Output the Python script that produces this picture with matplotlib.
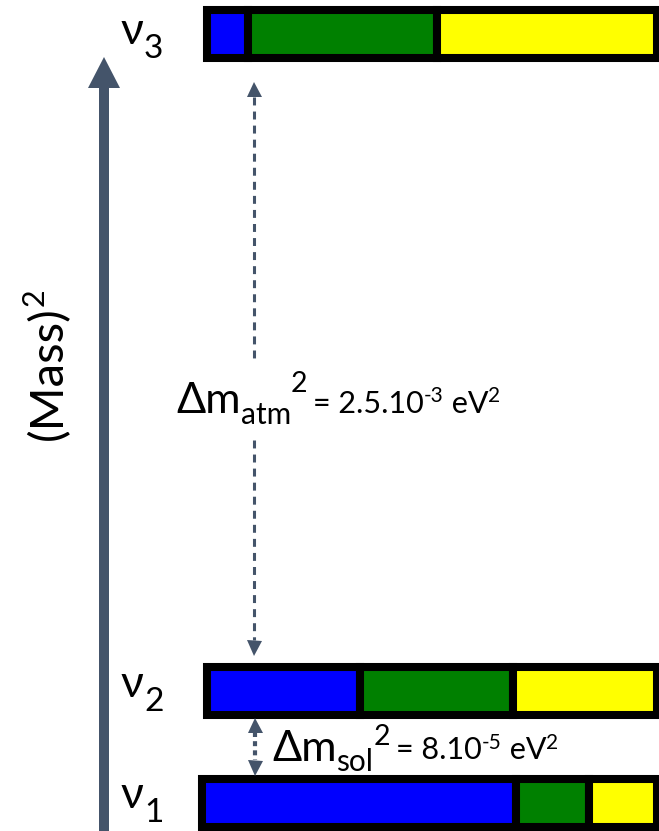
import numpy as np
import matplotlib
matplotlib.use('Agg')
import matplotlib.pyplot as plt

# flavour content of each mass state (electron, muon, tau)
flavours = ['e', 'mu', 'tau']
flavour_colors = ['#0000FF', '#008000', '#FFFF00']
frac_nu1 = [0.69, 0.16, 0.15]
frac_nu2 = [0.34, 0.34, 0.32]
frac_nu3 = [0.09, 0.42, 0.49]
state_labels = ['ν', 'ν', 'ν']
state_subs = ['1', '2', '3']

atm_label = ['Δm', 'atm', '2', '= 2.5.10', '-3', ' eV', '2']
sol_label = ['Δm', 'sol', '2', '= 8.10', '-5', ' eV', '2']
axis_label = '(Mass)'

FONT = ['Lato', 'DejaVu Sans']
ARROW = '#44546A'
W, H = 659, 831

fig = plt.figure(figsize=(W / 100, H / 100), dpi=100)
ax = fig.add_axes([0, 0, 1, 1])
ax.set_xlim(0, W)
ax.set_ylim(H, 0)
ax.axis('off')
renderer = fig.canvas.get_renderer()

# layout of the three levels (pixels)
level_y = [803, 691, 34]
level_x0 = [202, 207, 207]
level_x1 = 657
bar_h = 47.5
label_base = [808, 697, 44]

for fr, y, x0 in zip([frac_nu1, frac_nu2, frac_nu3], level_y, level_x0):
    span = level_x1 - x0
    lefts = x0 + span * np.concatenate([[0], np.cumsum(fr)[:-1]])
    ax.barh(y, np.array(fr) * span, left=lefts, height=bar_h,
            color=flavour_colors, edgecolor='black', linewidth=5.8)


def chain(x, y, parts):
    # parts: (text, size, baseline shift, gap before)
    for txt, size, dy, gap in parts:
        t = ax.text(x + gap, y + dy, txt, fontsize=size, family=FONT,
                    ha='left', va='baseline', color='black')
        bb = t.get_window_extent(renderer=renderer)
        x = bb.x1
    return x


for lab, sub, yb in zip(state_labels, state_subs, label_base):
    chain(121, yb, [(lab, 32, 0, 0), (sub, 24, 14, 0)])

# mass axis arrow
ax.arrow(104, H, 0, -(H - 57), width=10, head_width=32, head_length=31,
         length_includes_head=True, color=ARROW, linewidth=0)
t = ax.text(62, 440, axis_label, rotation=90, rotation_mode='anchor',
            ha='left', va='baseline', fontsize=34, family=FONT)
bb = t.get_window_extent(renderer=renderer)
ax.text(44, H - bb.y1, '2', rotation=90, rotation_mode='anchor',
        ha='left', va='baseline', fontsize=22, family=FONT)

# atmospheric splitting
ax.plot([254, 254], [97, 358], color=ARROW, lw=2.2, dashes=(2.6, 2.0))
ax.plot([254, 254], [440, 640], color=ARROW, lw=2.2, dashes=(2.6, 2.0))
ax.plot([254], [88.5], marker='^', ms=10.8, color=ARROW, mew=0)
ax.plot([254], [647.5], marker='v', ms=10.8, color=ARROW, mew=0)

sizes = [31, 21.5, 20.5, 22, 15, 22, 15]
shifts = [0, 11, -21, 0, -11, 0, -11]
gaps = [0, 0, 0, 6, 0, 0, 0]
chain(176, 413, list(zip(atm_label, sizes, shifts, gaps)))

# solar splitting
ax.plot([255, 255], [732, 760], color=ARROW, lw=3, dashes=(1.2, 1.0))
ax.plot([255], [724.5], marker='^', ms=10.8, color=ARROW, mew=0)
ax.plot([255], [767.5], marker='v', ms=10.8, color=ARROW, mew=0)
shifts = [0, 10, -16, -2, -12, -2, -12]
chain(272, 761, list(zip(sol_label, sizes, shifts, gaps)))

fig.savefig('out.png', dpi=100)
